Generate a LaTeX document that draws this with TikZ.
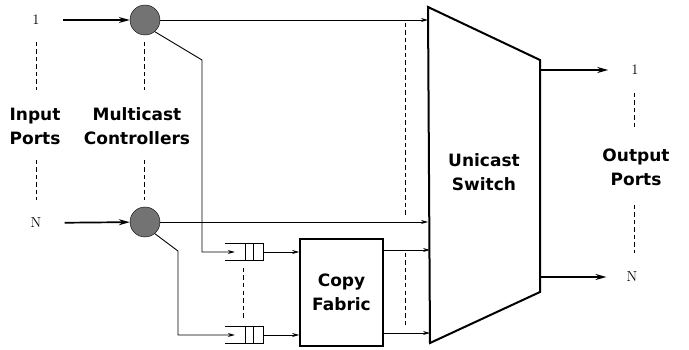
\documentclass[tikz,border=0pt]{standalone}
\usepackage{fontspec}
\newfontfamily\labelfont{DejaVu Sans}
\usetikzlibrary{arrows.meta, positioning}

\begin{document}
\begin{tikzpicture}[x=1pt, y=-1pt,
    every node/.style={inner sep=1pt},
    lbl/.style={font=\labelfont\bfseries\fontsize{17}{24}\selectfont, align=center},
    num/.style={font=\fontsize{14.5}{16}\selectfont},
    ctrl/.style={circle, draw=black, thin, fill=black!55, minimum size=30pt, inner sep=0pt},
    queueBox/.style={rectangle, minimum width=38pt, minimum height=17pt, inner sep=0pt},
    fabric/.style={rectangle, draw=black, line width=1.7pt, minimum width=83pt, minimum height=107pt},
    portArrow/.style={-{Stealth[length=11pt,width=6pt]}, line width=1.7pt},
    thinArrow/.style={-{Stealth[length=7pt,width=4pt]}, line width=0.9pt},
    wire/.style={line width=0.9pt},
    sepLine/.style={dash pattern=on 4.5pt off 3pt, line width=0.9pt}
]
\useasboundingbox (0,0) rectangle (689,350);

% ============== inputs ==============
\node[num] (in1) at (36,20)  {1};
\node[num] (inN) at (36,223) {N};
\node[lbl] (inLbl) at (35,126) {Input\\Ports};

% ============== multicast controllers ==============
\node[ctrl] (c1) at (145,20)  {};
\node[ctrl] (cN) at (145,222) {};
\node[lbl] (ctrlLbl) at (137,126) {Multicast\\Controllers};

% ============== copy fabric ==============
\node[queueBox] (q1) at (244,252) {};
\node[queueBox] (qN) at (244,335) {};
\node[fabric, lbl] (fab) at (341.5,292.5) {Copy\\Fabric};

% ============== unicast switch ==============
\coordinate (swTL) at (428,7);
\coordinate (swTR) at (540,60);
\coordinate (swBR) at (540,292);
\coordinate (swBL) at (430,343);
\draw[line width=2pt, line join=miter] (swTL) -- (swTR) -- (swBR) -- (swBL) -- cycle;
\node[lbl] (sw) at (484,172) {Unicast\\Switch};

% ============== outputs ==============
\node[num] (out1) at (635,70)  {1};
\node[num] (outN) at (632,277) {N};
\node[lbl] (outLbl) at (636,167) {Output\\Ports};

% ============== queues ==============
\foreach \q in {q1,qN} {
  \draw[wire] (\q.north west) -- (\q.north east) -- (\q.south east) -- (\q.south west);
  \draw[wire] ([xshift=-18pt]\q.north east) -- ([xshift=-18pt]\q.south east);
  \draw[wire] ([xshift=-10pt]\q.north east) -- ([xshift=-10pt]\q.south east);
}

% ============== connections ==============
\draw[portArrow, shorten <=22pt] (in1) -- (c1);
\draw[portArrow, shorten <=22pt] (inN) -- (cN);
\draw[thinArrow] (c1) -- (c1 -| swTL);
\draw[thinArrow] (cN) -- (cN -| swTL);
\draw[thinArrow] (c1.-50) -- (202,60) |- ([xshift=10pt]q1.west);
\draw[thinArrow] (cN.-50) -- (178,251) |- ([xshift=10pt]qN.west);
\draw[thinArrow] (q1) -- (q1 -| fab.west);
\draw[thinArrow] (qN) -- (qN -| fab.west);
\draw[thinArrow] (fab.east |- 0,250) -- (swBL |- 0,250);
\draw[thinArrow] (fab.east |- 0,333) -- (swBL |- 0,333);
\draw[portArrow, shorten >=22pt] (out1 -| swTR) -- (out1);
\draw[portArrow, shorten >=19pt] (outN -| swBR) -- (outN);

% ============== dashed separators ==============
\draw[sepLine] (36,42) -- (36,90);
\draw[sepLine] (36,160) -- (36,200);
\draw[sepLine] (144,42) -- (144,90);
\draw[sepLine] (144,160) -- (144,200);
\draw[sepLine] (243,268) -- (243,318);
\draw[sepLine] (405,23) -- (405,215);
\draw[sepLine] (405,253) -- (405,328);
\draw[sepLine] (634,93) -- (634,130);
\draw[sepLine] (634,205) -- (634,253);
\end{tikzpicture}
\end{document}
